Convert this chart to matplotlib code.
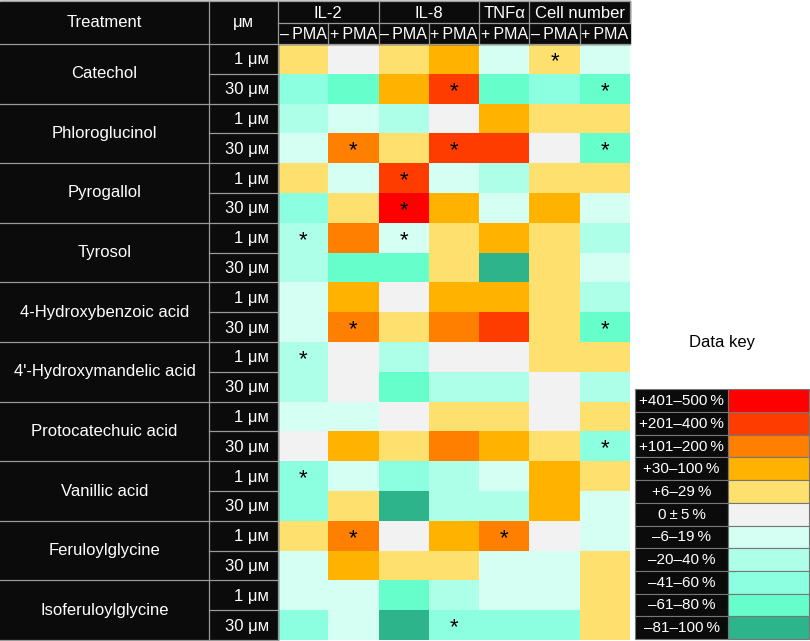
import numpy as np
import matplotlib
matplotlib.use("Agg")
import matplotlib.pyplot as plt
from matplotlib.colors import ListedColormap, BoundaryNorm
from matplotlib.patches import Rectangle

plt.rcParams['font.family'] = ['Liberation Sans', 'DejaVu Sans']

# ---------------- data ----------------
compounds = ["Catechol", "Phloroglucinol", "Pyrogallol", "Tyrosol",
             "4-Hydroxybenzoic acid", "4'-Hydroxymandelic acid",
             "Protocatechuic acid", "Vanillic acid", "Feruloylglycine",
             "Isoferuloylglycine"]
concentrations = ["1 μᴍ", "30 μᴍ"]
groups = ["IL-2", "IL-8", "TNFα", "Cell number"]
group_span = [2, 2, 1, 2]
sub_labels = ["–\u2009PMA", "+\u2009PMA", "–\u2009PMA", "+\u2009PMA",
              "+\u2009PMA", "–\u2009PMA", "+\u2009PMA"]

# category codes: 5 = +401–500 %, ... 0 = 0±5 %, ... -5 = -81–100 %
codes = np.array([
    [ 1,  0,  1,  2, -1,  1, -1],   # Catechol 1
    [-3, -4,  2,  4, -4, -3, -4],   # Catechol 30
    [-2, -1, -2,  0,  2,  1,  1],   # Phloroglucinol 1
    [-1,  3,  1,  4,  4,  0, -4],   # Phloroglucinol 30
    [ 1, -1,  4, -1, -2,  1,  1],   # Pyrogallol 1
    [-3,  1,  5,  2, -1,  2, -1],   # Pyrogallol 30
    [-2,  3, -1,  1,  2,  1, -2],   # Tyrosol 1
    [-2, -4, -4,  1, -5,  1, -1],   # Tyrosol 30
    [-1,  2,  0,  2,  2,  1, -2],   # 4-HBA 1
    [-1,  3,  1,  3,  4,  1, -4],   # 4-HBA 30
    [-2,  0, -2,  0,  0,  1,  1],   # 4'-HMA 1
    [-2,  0, -4, -2, -2,  0, -2],   # 4'-HMA 30
    [-1, -1,  0,  1,  1,  0,  1],   # Protocatechuic 1
    [ 0,  2,  1,  3,  2,  1, -3],   # Protocatechuic 30
    [-3, -1, -3, -2, -1,  2,  1],   # Vanillic 1
    [-3,  1, -5, -2, -2,  2, -1],   # Vanillic 30
    [ 1,  3,  0,  2,  3,  0, -1],   # Feruloylglycine 1
    [-1,  2,  1,  1, -1, -1,  1],   # Feruloylglycine 30
    [-1, -1, -4, -2, -1, -1,  1],   # Isoferuloylglycine 1
    [-3, -1, -5, -3, -3, -3,  1],   # Isoferuloylglycine 30
])

stars = [(0, 5), (1, 3), (1, 6), (3, 1), (3, 3), (3, 6), (4, 2), (5, 2),
         (6, 0), (6, 2), (9, 1), (9, 6), (10, 0), (13, 6), (14, 0),
         (16, 1), (16, 4), (19, 3)]

key_labels = ["+401–500\u2009%", "+201–400\u2009%", "+101–200\u2009%",
              "+30–100\u2009%", "+6–29\u2009%", "0\u2009±\u20095\u2009%",
              "–6–19\u2009%", "–20–40\u2009%", "–41–60\u2009%",
              "–61–80\u2009%", "–81–100\u2009%"]
key_codes = [5, 4, 3, 2, 1, 0, -1, -2, -3, -4, -5]
key_colors = ["#FF0000", "#FF3C00", "#FF7F00", "#FFB300", "#FEE06E",
              "#F2F2F2", "#D4FFF2", "#ADFFE8", "#8CFFE0", "#66FFCC",
              "#2DB48A"]

# ---------------- layout ----------------
W, H = 810, 641
fig = plt.figure(figsize=(W / 100, H / 100), dpi=100)
ax = fig.add_axes([0, 0, 1, 1])
ax.set_xlim(0, W)
ax.set_ylim(H, 0)
ax.axis("off")

BLACK = "#0B0B0C"
GRID = "#9A9A9A"
x_treat0, x_conc0, x_data0, x_data1 = 0, 209, 278, 630
y_top, y_sub, y_data0, y_data1 = 1, 23, 44, 640
ncol = codes.shape[1]
nrow = codes.shape[0]
xe = np.linspace(x_data0, x_data1, ncol + 1)
ye = np.linspace(y_data0, y_data1, nrow + 1)

# heatmap
colors_sorted = key_colors[::-1]  # from -5 to 5
cmap = ListedColormap(colors_sorted)
norm = BoundaryNorm(np.arange(-5.5, 6.5, 1), cmap.N)
ax.pcolormesh(xe, ye, codes, cmap=cmap, norm=norm, shading="flat",
              edgecolors="none", zorder=1)

for r, c in stars:
    ax.text((xe[c] + xe[c + 1]) / 2, (ye[r] + ye[r + 1]) / 2 + 2.5, "*",
            ha="center", va="center", fontsize=16, color="black", zorder=3)

# header + left black areas
ax.add_patch(Rectangle((0, y_top), x_data1, y_data0 - y_top, color=BLACK, zorder=2))
ax.add_patch(Rectangle((0, y_data0), x_data0, y_data1 - y_data0, color=BLACK, zorder=2))

lw = 0.9
ax.plot([0, x_data1], [y_data0, y_data0], color=GRID, lw=lw, zorder=4)
ax.plot([x_data0, x_data1], [y_sub, y_sub], color=GRID, lw=lw, zorder=4)
ax.plot([0, x_data1], [y_top, y_top], color=GRID, lw=lw, zorder=4)
for xv in [x_conc0, x_data0]:
    ax.plot([xv, xv], [y_top, y_data1], color=GRID, lw=lw, zorder=4)
for i in range(1, ncol):
    ax.plot([xe[i], xe[i]], [y_sub, y_data0], color=GRID, lw=lw, zorder=4)
gstart = 0
for g, span in zip(groups, group_span):
    gx0, gx1 = xe[gstart], xe[gstart + span]
    ax.plot([gx1, gx1], [y_top, y_sub], color=GRID, lw=lw, zorder=4)
    ax.text((gx0 + gx1) / 2, (y_top + y_sub) / 2 + 1, g, ha="center", va="center",
            fontsize=12, color="white", zorder=5)
    gstart += span
for i, s in enumerate(sub_labels):
    ax.text((xe[i] + xe[i + 1]) / 2, (y_sub + y_data0) / 2 + 1, s,
            ha="center", va="center", fontsize=11.5, color="white", zorder=5)

ax.text((x_treat0 + x_conc0) / 2, (y_top + y_data0) / 2, "Treatment",
        ha="center", va="center", fontsize=12, color="white", zorder=5)
ax.text((x_conc0 + x_data0) / 2, (y_top + y_data0) / 2, "μᴍ",
        ha="center", va="center", fontsize=12, color="white", zorder=5)

# left labels
for k, name in enumerate(compounds):
    r0 = 2 * k
    ax.text((x_treat0 + x_conc0) / 2, ye[r0 + 1], name, ha="center", va="center",
            fontsize=12, color="white", zorder=5)
    ax.plot([0, x_data0], [ye[r0 + 2], ye[r0 + 2]], color=GRID, lw=lw, zorder=4)
    ax.plot([x_conc0, x_data0], [ye[r0 + 1], ye[r0 + 1]], color=GRID, lw=lw, zorder=4)
    for j, cl in enumerate(concentrations):
        ax.text(x_data0 - 9, (ye[r0 + j] + ye[r0 + j + 1]) / 2 + 1, cl,
                ha="right", va="center", fontsize=12, color="white", zorder=5)

# ---------------- data key ----------------
kx0, kx1, kx2 = 635, 728, 809
ky1 = 639
kh = 22.7
ky0 = ky1 - kh * len(key_labels)
ax.text((kx0 + kx2) / 2, 342, "Data key", ha="center", va="center",
        fontsize=12, color="black")
for i, (lab, col) in enumerate(zip(key_labels, key_colors)):
    y0 = ky0 + i * kh
    ax.add_patch(Rectangle((kx0, y0), kx1 - kx0, kh, facecolor=BLACK,
                           edgecolor="#777777", lw=0.8, zorder=2))
    ax.add_patch(Rectangle((kx1, y0), kx2 - kx1, kh, facecolor=col,
                           edgecolor="#777777", lw=0.8, zorder=2))
    ax.text((kx0 + kx1) / 2, y0 + kh / 2 + 0.5, lab, ha="center", va="center",
            fontsize=11, color="white", zorder=5)

fig.savefig("out.png", dpi=100)
